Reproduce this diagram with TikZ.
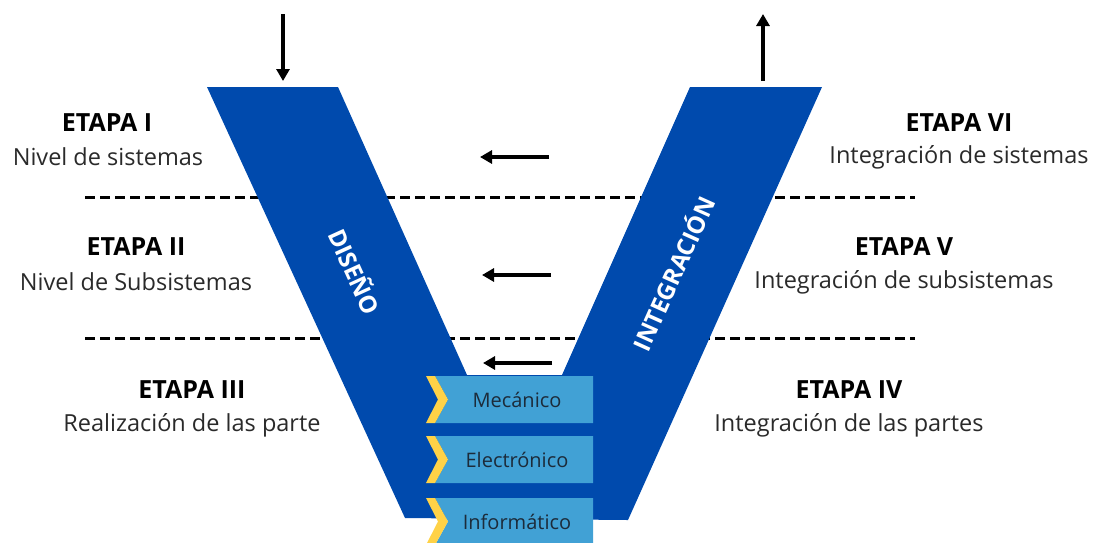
\documentclass[tikz,border=0pt]{standalone}
\usepackage{fontspec}
\setmainfont{Open Sans}
\usetikzlibrary{arrows.meta}
\definecolor{vblue}{HTML}{004AAD}
\definecolor{boxblue}{HTML}{41A1D5}
\definecolor{chevyellow}{HTML}{FFD247}
\definecolor{boxtext}{HTML}{1C2B3A}
\definecolor{labeltext}{HTML}{2A2A2A}
\begin{document}
\begin{tikzpicture}[x=1pt,y=-1pt,
  stage/.style={font=\fontsize{25}{29}\selectfont\bfseries, text=black, inner sep=0pt},
  desc/.style={font=\fontsize{23.5}{28}\selectfont, text=labeltext, inner sep=0pt},
  bandlabel/.style={font=\fontsize{24}{28}\selectfont\bfseries, text=white, inner sep=0pt},
  partlabel/.style={font=\fontsize{20}{24}\selectfont, text=boxtext, inner sep=0pt},
  divider/.style={line width=3pt, dash pattern=on 10pt off 5pt},
  flow/.style={line width=3.3pt, -{Triangle[length=12pt,width=13pt]}}]
\useasboundingbox (0,0) rectangle (1099,542);
\begin{scope}
\clip (0,0) rectangle (1099,542);

% level separators (behind the V)
\coordinate (d1a) at (85,197);  \coordinate (d1b) at (915,197);
\coordinate (d2a) at (85,338);  \coordinate (d2b) at (915,338);
\draw[divider] (d1a) -- (d1b);
\draw[divider] (d2a) -- (d2b);

% the V: design band and integration band
\fill[vblue] (207,87) -- (338,87) -- (467,375) -- (562,375) -- (690,87) -- (822,87)
  -- (628,520) -- (405,518) -- cycle;

% discipline boxes with chevrons
\foreach \t/\b/\name/\txt in {376/423/mec/Mecánico, 436/483/ele/Electrónico, 498/545/inf/Informático}{
  \pgfmathsetmacro{\m}{(\t+\b)/2}
  \fill[boxblue] (435,\t) -- (593,\t) -- (593,\b) -- (435,\b) -- (448,\m) -- cycle;
  \fill[chevyellow] (426,\t) -- (435,\t) -- (448,\m) -- (435,\b) -- (426,\b) -- (438,\m) -- cycle;
  \node[partlabel] (\name) at (517,\m) {\txt};
}

% band titles
\node[bandlabel, rotate=-65.5] (dis) at (356,271) {DISEÑO};
\node[bandlabel, rotate=65.8] (int) at (672,273) {INTEGRACIÓN};

% flow arrows
\coordinate (inA) at (283,14);  \coordinate (inB) at (283,81);
\coordinate (outA) at (763,81); \coordinate (outB) at (763,14);
\draw[flow] (inA) -- (inB);
\draw[flow] (outA) -- (outB);
\coordinate (r1a) at (549,157); \coordinate (r1b) at (480,157);
\coordinate (r2a) at (551,275); \coordinate (r2b) at (482,275);
\coordinate (r3a) at (552,363); \coordinate (r3b) at (483,363);
\draw[flow] (r1a) -- (r1b);
\draw[flow] (r2a) -- (r2b);
\draw[flow] (r3a) -- (r3b);

% stage labels, left side
\node[stage] (e1) at (107,123) {ETAPA I};
\node[desc]  (n1) at (108,157) {Nivel de sistemas};
\node[stage] (e2) at (136,247) {ETAPA II};
\node[desc]  (n2) at (136,282) {Nivel de Subsistemas};
\node[stage] (e3) at (192,390) {ETAPA III};
\node[desc]  (n3) at (192,425) {Realización de las parte};

% stage labels, right side
\node[stage] (e6) at (959,123) {ETAPA VI};
\node[desc]  (n6) at (959,157) {Integración de sistemas};
\node[stage] (e5) at (904,247) {ETAPA V};
\node[desc]  (n5) at (904,282) {Integración de subsistemas};
\node[stage] (e4) at (849,390) {ETAPA IV};
\node[desc]  (n4) at (849,425) {Integración de las partes};
\end{scope}
\end{tikzpicture}
\end{document}
